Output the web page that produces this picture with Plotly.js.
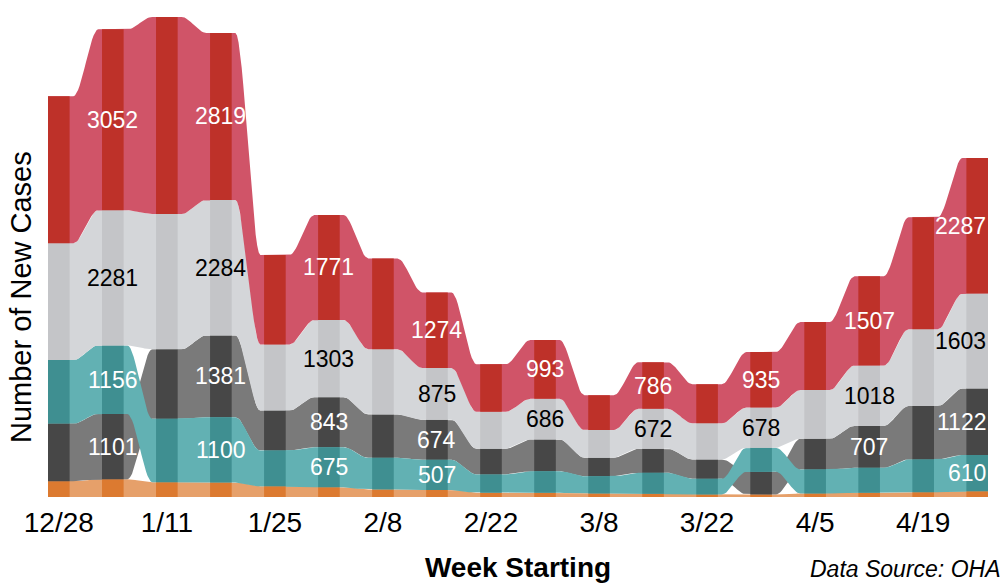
<!DOCTYPE html>
<html>
<head>
<meta charset="utf-8">
<script src="https://cdn.plot.ly/plotly-3.0.1.min.js"></script>
<style>
html,body{margin:0;padding:0;background:#ffffff;}
#chart{width:1005px;height:584px;}
</style>
</head>
<body>
<div id="chart"></div>
<script>
// ---- data (weekly new cases) ----
const weeks = ["12/28","1/4","1/11","1/18","1/25","2/1","2/8","2/15","2/22","3/1","3/8","3/15","3/22","3/29","4/5","4/12","4/19","4/26"];
const tickLabels = ["12/28","1/11","1/25","2/8","2/22","3/8","3/22","4/5","4/19"];

const redSeries       = [2479, 3052, 3324, 2819, 1509, 1771, 1533, 1274, 800, 993, 586, 786, 659, 935, 1149, 1507, 1888, 2287];
const lightGraySeries = [1972, 2281, 2282, 2284, 1115, 1303, 1099, 875, 625, 686, 467, 672, 608, 678, 821, 1018, 1296, 1603];
const tealSeries      = [1070, 1156, 1070, 1100, 603, 675, 535, 507, 310, 366, 293, 355, 265, 406, 406, 422, 553, 610];
const darkGraySeries  = [975, 1101, 1172, 1381, 676, 843, 732, 674, 434, 535, 311, 406, 327, 383, 519, 707, 901, 1122];
const orangeSeries    = [264, 300, 250, 245, 180, 165, 125, 120, 70, 70, 58, 54, 42, 42, 58, 70, 80, 98];

// weeks whose value is printed on each band
const redLabelWeeks       = [1,3,5,7,9,11,13,15,17];
const lightGrayLabelWeeks = [1,3,5,7,9,11,13,15,17];
const tealLabelWeeks      = [1,3,5,7,17];
const darkGrayLabelWeeks  = [1,3,5,7,15,17];
const orangeLabelWeeks    = [];

// ---- styles ----
const series = [
  {values: orangeSeries,    labels: orangeLabelWeeks,    fill: '#E6A06A', stripe: '#DC7A30', text: '#ffffff'},
  {values: darkGraySeries,  labels: darkGrayLabelWeeks,  fill: '#7A7A7A', stripe: '#474747', text: '#ffffff'},
  {values: tealSeries,      labels: tealLabelWeeks,      fill: '#62B1B3', stripe: '#3F8F91', text: '#ffffff'},
  {values: lightGraySeries, labels: lightGrayLabelWeeks, fill: '#D4D6D9', stripe: '#C4C5C8', text: '#000000'},
  {values: redSeries,       labels: redLabelWeeks,       fill: '#D05468', stripe: '#BE3129', text: '#ffffff'}
];

const n = weeks.length;
const xMin = -0.2, xMax = n - 1 + 0.2;
const HALF_FLAT = 0.27;      // half width of each week's flat part
const HALF_STRIPE = 0.2;     // half width of the darker stripe
const STEPS = 16;

// rank series inside each week: smallest at the bottom
const bottoms = series.map(() => new Array(n));
const tops = series.map(() => new Array(n));
for (let i = 0; i < n; i++) {
  const order = series.map((s, k) => k).sort((a, b) => series[a].values[i] - series[b].values[i]);
  let cum = 0;
  order.forEach(k => { bottoms[k][i] = cum; cum += series[k].values[i]; tops[k][i] = cum; });
}

// edge path in data units: flat around each week, eased transition between weeks
function edge(arr) {
  const xs = [], ys = [];
  for (let i = 0; i < n; i++) {
    xs.push(Math.max(i - HALF_FLAT, xMin)); ys.push(arr[i]);
    xs.push(Math.min(i + HALF_FLAT, xMax)); ys.push(arr[i]);
    if (i < n - 1) {
      const x0 = i + HALF_FLAT, x1 = i + 1 - HALF_FLAT;
      for (let s = 1; s < STEPS; s++) {
        const t = s / STEPS;
        const e = t * t * (3 - 2 * t);
        xs.push(x0 + (x1 - x0) * t);
        ys.push(arr[i] + (arr[i + 1] - arr[i]) * e);
      }
    }
  }
  return {xs, ys};
}

const traces = [];
series.forEach((s, k) => {
  const top = edge(tops[k]);
  const bot = edge(bottoms[k]);
  traces.push({
    type: 'scatter', mode: 'lines', fill: 'toself', fillcolor: s.fill,
    line: {width: 0, color: s.fill}, hoverinfo: 'skip',
    x: top.xs.concat(bot.xs.slice().reverse()),
    y: top.ys.concat(bot.ys.slice().reverse())
  });
});
// darker stripes at every week
series.forEach((s, k) => {
  const xs = [], ys = [];
  for (let i = 0; i < n; i++) {
    const a = i - HALF_STRIPE, b = i + HALF_STRIPE;
    xs.push(a, b, b, a, a, null);
    ys.push(bottoms[k][i], bottoms[k][i], tops[k][i], tops[k][i], bottoms[k][i], null);
  }
  traces.push({
    type: 'scatter', mode: 'lines', fill: 'toself', fillcolor: s.stripe,
    line: {width: 0, color: s.stripe}, hoverinfo: 'skip', x: xs, y: ys
  });
});

const FONT = 'Liberation Sans, Arial, sans-serif';
const annotations = [];
series.forEach((s, k) => {
  s.labels.forEach(i => {
    const last = (i === n - 1);
    annotations.push({
      x: last ? xMax : i, y: bottoms[k][i] + s.values[i] / 2,
      xref: 'x', yref: 'y', xanchor: last ? 'right' : 'center', yanchor: 'middle',
      text: String(s.values[i]), showarrow: false,
      font: {family: FONT, size: 23, color: s.text}
    });
  });
});
annotations.push({
  xref: 'paper', yref: 'paper', x: -0.028, y: 0.41, xanchor: 'center', yanchor: 'middle',
  textangle: -90, text: 'Number of New Cases', showarrow: false,
  font: {family: FONT, size: 29, color: '#000'}
});
annotations.push({
  xref: 'paper', yref: 'paper', x: 0.808, y: -0.1786, xanchor: 'left', yanchor: 'bottom',
  text: '<i>Data Source: OHA</i>', showarrow: false,
  font: {family: FONT, size: 23, color: '#000'}
});

const layout = {
  width: 1005, height: 584,
  margin: {l: 48, r: 17, t: 10, b: 87},
  paper_bgcolor: '#ffffff', plot_bgcolor: '#ffffff',
  showlegend: false,
  xaxis: {
    range: [xMin, xMax], showgrid: false, zeroline: false, showline: false, ticks: '',
    tickvals: tickLabels.map(l => weeks.indexOf(l)), ticktext: tickLabels,
    tickfont: {family: FONT, size: 28, color: '#000'}, ticklabelstandoff: 6,
    title: {text: '<b>Week Starting</b>', font: {family: FONT, size: 28, color: '#000'}, standoff: 20}
  },
  yaxis: {range: [0, 8215], visible: false, fixedrange: true},
  annotations: annotations
};

Plotly.newPlot('chart', traces, layout, {displayModeBar: false, staticPlot: true});
</script>
</body>
</html>
